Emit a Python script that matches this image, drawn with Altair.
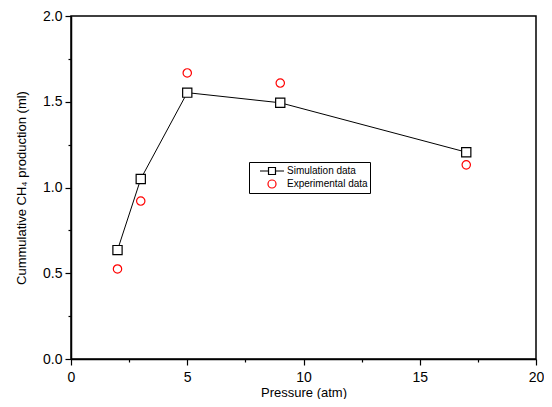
import altair as alt
import pandas as pd

pressure = [2, 3, 5, 9, 17]
sim_values = [0.635, 1.05, 1.553, 1.494, 1.206]
exp_values = [0.525, 0.921, 1.668, 1.609, 1.132]
series_names = ["Simulation data", "Experimental data"]

sim = pd.DataFrame({"p": pressure, "v": sim_values, "series": series_names[0]})
exp = pd.DataFrame({"p": pressure, "v": exp_values, "series": series_names[1]})
both = pd.concat([sim, exp])

FONT = "Liberation Sans"

x_enc = alt.X(
    "p:Q",
    scale=alt.Scale(domain=[0, 20], nice=False),
    axis=alt.Axis(
        values=[0, 2.5, 5, 7.5, 10, 12.5, 15, 17.5, 20],
        labelExpr="datum.value % 5 == 0 ? format(datum.value, 'd') : ''",
        tickSize={"condition": {"test": "datum.value % 5 != 0", "value": 3}, "value": 6},
        labelFlush=False,
        labelPadding=5,
        title="Pressure (atm)",
        grid=False,
    ),
)
y_enc = alt.Y(
    "v:Q",
    scale=alt.Scale(domain=[0, 2], nice=False),
    axis=alt.Axis(
        values=[0, 0.25, 0.5, 0.75, 1, 1.25, 1.5, 1.75, 2],
        labelExpr="datum.value % 0.5 == 0 ? format(datum.value, '.1f') : ''",
        tickSize={"condition": {"test": "datum.value % 0.5 != 0", "value": 3}, "value": 6},
        labelFlush=False,
        title="Cummulative CH\u2084 production (ml)",
        grid=False,
    ),
)

line = alt.Chart(sim).mark_line(color="black", strokeWidth=1).encode(x=x_enc, y=y_enc)
sim_pts = alt.Chart(sim).mark_point(
    shape="square", size=85, filled=False, fill="white", color="black", strokeWidth=1.2, opacity=1
).encode(x="p:Q", y="v:Q")
exp_pts = alt.Chart(exp).mark_point(
    shape="circle", size=70, filled=False, color="red", strokeWidth=1.2, opacity=1
).encode(x="p:Q", y="v:Q")

sq_path = "M-2,0H-0.58M0.58,0H2M-0.58,-0.58H0.58V0.58H-0.58Z"
circ_path = "M-0.67,0A0.67,0.67 0 1,0 0.67,0A0.67,0.67 0 1,0 -0.67,0"

legend_layer = alt.Chart(both).mark_point(filled=False, opacity=0).encode(
    x="p:Q",
    y="v:Q",
    color=alt.Color(
        "series:N",
        scale=alt.Scale(domain=series_names, range=["black", "red"]),
        legend=alt.Legend(
            title=None,
            orient="none",
            legendX=178,
            legendY=146,
            strokeColor="black",
            fillColor="white",
            padding=2,
            symbolSize=144,
            symbolOffset=14,
            symbolOpacity=1,
            symbolStrokeWidth=1.2,
            labelFont=FONT,
            labelFontSize=10,
            labelColor="black",
            rowPadding=0,
            labelOffset=8,
        ),
    ),
    shape=alt.Shape(
        "series:N",
        scale=alt.Scale(domain=series_names, range=[sq_path, circ_path]),
        legend=None,
    ),
)

chart = (
    alt.layer(line, sim_pts, exp_pts, legend_layer)
    .properties(
        width=465,
        height=343,
        autosize=alt.AutoSizeParams(type="none"),
        padding={"left": 63, "top": 8, "right": 8, "bottom": 40},
    )
    .configure_view(stroke="black", strokeWidth=1.5)
    .configure_axis(
        domainColor="black",
        domainWidth=1.5,
        tickColor="black",
        tickWidth=1.2,
        labelFont=FONT,
        labelFontSize=14,
        labelColor="black",
        labelPadding=3,
        titleFont=FONT,
        titleFontSize=13,
        titleFontWeight="normal",
        titleColor="black",
    )
    .configure_axisX(titlePadding=2)
    .configure_axisY(titlePadding=14)
)

chart.save("out.html", embed_options={"renderer": "svg", "actions": False})
